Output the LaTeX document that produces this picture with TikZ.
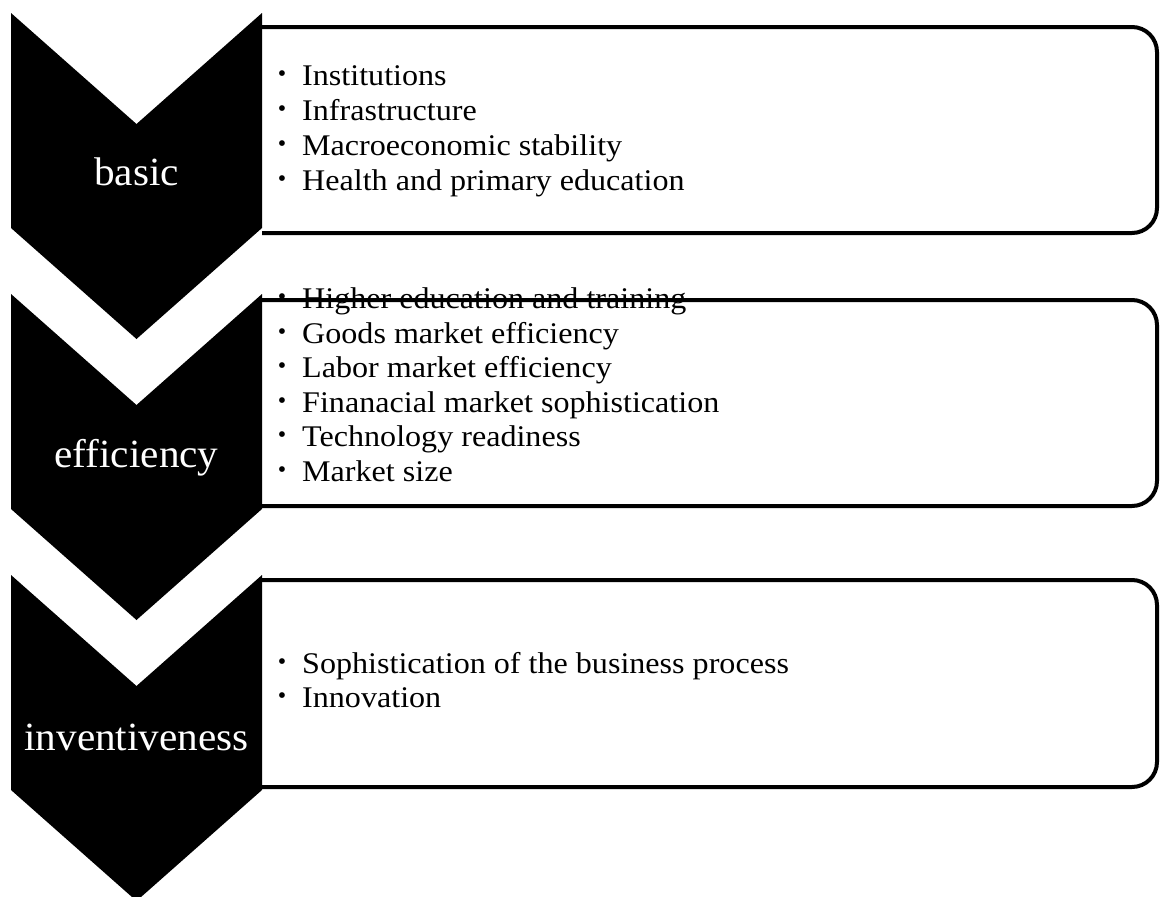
\documentclass[tikz,border=0pt]{standalone}
\usepackage{fontspec}
\setmainfont{Liberation Serif}
\newfontfamily\itemfont[FakeStretch=1.07]{Liberation Serif}
\newfontfamily\labfont[FakeStretch=1.03]{Liberation Serif}
\begin{document}
\begin{tikzpicture}[x=1pt,y=-1pt,
  chev/.style={fill=black,draw=none},
  boxfill/.style={fill=white,draw=none,rounded corners=25pt},
  boxline/.style={draw=black,line width=4pt,rounded corners=25pt},
  lab/.style={anchor=base,text=white,inner sep=0pt,font=\labfont\fontsize{40}{40}\selectfont},
  item/.style={anchor=base west,inner sep=0pt,font=\itemfont\fontsize{30}{30}\selectfont},
  bul/.style={anchor=center,inner sep=0pt,font=\fontsize{24}{24}\selectfont}]
\useasboundingbox (0,0) rectangle (1160,897);
% boxes: fill
\fill[boxfill] (262,27) -- (1157,27) -- (1157,233) -- (262,233);
\fill[boxfill] (262,300) -- (1157,300) -- (1157,506) -- (262,506);
\fill[boxfill] (262,580) -- (1157,580) -- (1157,787) -- (262,787);
% box 1 text
\node[bul] (b11) at (282,76) {•};
\node[item] (t11) at (302,85) {Institutions};
\node[bul] (b12) at (282,111) {•};
\node[item] (t12) at (302,120) {Infrastructure};
\node[bul] (b13) at (282,146) {•};
\node[item] (t13) at (302,155) {Macroeconomic stability};
\node[bul] (b14) at (282,181) {•};
\node[item] (t14) at (302,190) {Health and primary education};
% box 2 text
\node[bul] (b21) at (282,299) {•};
\node[item] (t21) at (302,308) {Higher education and training};
\node[bul] (b22) at (282,334) {•};
\node[item] (t22) at (302,343) {Goods market efficiency};
\node[bul] (b23) at (282,368) {•};
\node[item] (t23) at (302,377) {Labor market efficiency};
\node[bul] (b24) at (282,403) {•};
\node[item] (t24) at (302,412) {Finanacial market sophistication};
\node[bul] (b25) at (282,437) {•};
\node[item] (t25) at (302,446) {Technology readiness};
\node[bul] (b26) at (282,472) {•};
\node[item] (t26) at (302,481) {Market size};
% box 3 text
\node[bul] (b31) at (282,664) {•};
\node[item] (t31) at (302,673) {Sophistication of the business process};
\node[bul] (b32) at (282,698) {•};
\node[item] (t32) at (302,707) {Innovation};
% boxes: outline (open on the left)
\draw[boxline] (262,27) -- (1157,27) -- (1157,233) -- (262,233);
\draw[boxline] (262,300) -- (1157,300) -- (1157,506) -- (262,506);
\draw[boxline] (262,580) -- (1157,580) -- (1157,787) -- (262,787);
% chevrons
\fill[chev] (11,13) -- (136.5,124) -- (262,13) -- (262,228) -- (136.5,339) -- (11,228) -- cycle;
\fill[chev] (11,294) -- (136.5,405) -- (262,294) -- (262,509) -- (136.5,620) -- (11,509) -- cycle;
\fill[chev] (11,575) -- (136.5,686) -- (262,575) -- (262,790) -- (136.5,901) -- (11,790) -- cycle;
\node[lab] (l1) at (136.5,185) {basic};
\node[lab] (l2) at (136.5,467) {efficiency};
\node[lab] (l3) at (136.5,750) {inventiveness};
\end{tikzpicture}
\end{document}
